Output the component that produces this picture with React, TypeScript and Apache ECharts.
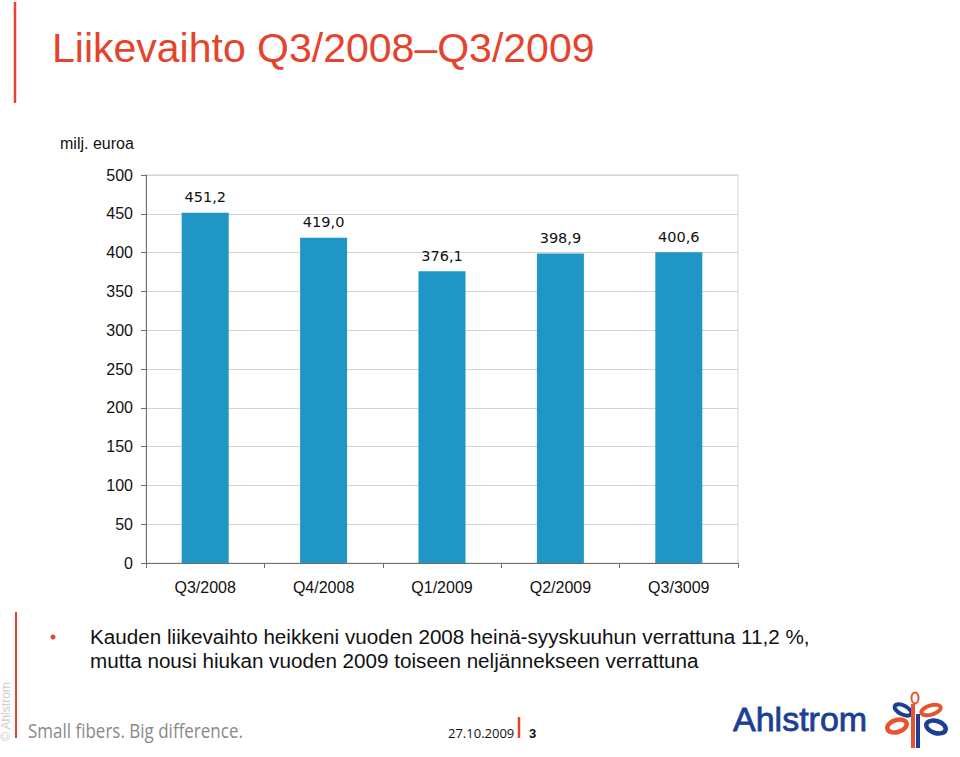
import React, { useEffect, useRef } from "react";
import * as echarts from "echarts";

const categories = ["Q3/2008", "Q4/2008", "Q1/2009", "Q2/2009", "Q3/3009"];
const revenue = [451.2, 419.0, 376.1, 398.9, 400.6];
const yTicks = [0, 50, 100, 150, 200, 250, 300, 350, 400, 450, 500];

const titleText = "Liikevaihto Q3/2008\u2013Q3/2009";
const unitText = "milj. euroa";
const bulletLines = [
  "Kauden liikevaihto heikkeni vuoden 2008 heinä-syyskuuhun verrattuna 11,2 %,",
  "mutta nousi hiukan vuoden 2009 toiseen neljännekseen verrattuna",
];
const sloganText = "Small fibers. Big difference.";
const dateText = "27.10.2009";
const pageText = "3";
const logoText = "Ahlstrom";
const copyrightText = "\u00a9 Ahlstrom";

const RED = "#e5432d";
const BLUE = "#1f96c6";
const LOGO_BLUE = "#1c3f94";
const LOGO_ORANGE = "#e8532f";
const FONT = "'Liberation Sans', Arial, Helvetica, sans-serif";
const HUMANIST = "'Open Sans', 'Noto Sans', sans-serif";

export default function App() {
  const ref = useRef<HTMLDivElement>(null);
  useEffect(() => {
    if (!ref.current) return;
    const chart = echarts.init(ref.current, undefined, { renderer: "svg" });
    const fmt = (v: number) => v.toFixed(1).replace(".", ",");
    chart.setOption({
      animation: false,
      backgroundColor: "#ffffff",
      grid: {
        left: 146,
        right: 222,
        top: 175,
        bottom: 194,
        show: true,
        borderColor: "#d4d4d4",
        borderWidth: 1,
      },
      xAxis: {
        type: "category",
        data: categories,
        axisLine: { show: true, lineStyle: { color: "#6e6e6e", width: 1 } },
        axisTick: { show: true, length: 5, alignWithLabel: false, lineStyle: { color: "#6e6e6e" } },
        axisLabel: { color: "#111", fontSize: 16, fontFamily: FONT, margin: 16 },
      },
      yAxis: {
        type: "value",
        min: yTicks[0],
        max: yTicks[yTicks.length - 1],
        interval: 50,
        axisLine: { show: true, lineStyle: { color: "#6e6e6e", width: 1 } },
        axisTick: { show: true, length: 5, lineStyle: { color: "#6e6e6e" } },
        axisLabel: { color: "#111", fontSize: 16, fontFamily: FONT, margin: 13 },
        splitLine: { show: true, lineStyle: { color: "#d4d4d4", width: 1 } },
      },
      series: [
        {
          type: "bar",
          data: revenue,
          barWidth: 47,
          itemStyle: { color: BLUE },
          label: {
            show: true,
            position: "top",
            distance: 8,
            color: "#111",
            fontSize: 14.5,
            fontFamily: "'DejaVu Sans', sans-serif",
            formatter: (p: any) => fmt(p.value),
          },
        },
      ],
      graphic: [
        { type: "line", shape: { x1: 15, y1: 2, x2: 15, y2: 103 }, style: { stroke: RED, lineWidth: 2.5 } },
        {
          type: "text",
          x: 52,
          y: 48,
          style: { text: titleText, fill: RED, font: `41px ${FONT}`, textVerticalAlign: "middle" },
        },
        {
          type: "text",
          x: 60,
          y: 143,
          style: { text: unitText, fill: "#111", font: `16px ${FONT}`, textVerticalAlign: "middle" },
        },
        { type: "line", shape: { x1: 16, y1: 612, x2: 16, y2: 738 }, style: { stroke: RED, lineWidth: 2 } },
        {
          type: "text",
          x: 6,
          y: 741,
          rotation: Math.PI / 2,
          style: { text: copyrightText, fill: "#cdcdcd", font: `12px ${FONT}`, textVerticalAlign: "middle" },
        },
        { type: "circle", shape: { cx: 53, cy: 637, r: 2.5 }, style: { fill: RED } },
        {
          type: "text",
          x: 90,
          y: 637,
          scaleX: 1.06,
          style: { text: bulletLines[0], fill: "#111", font: `19.5px ${FONT}`, textVerticalAlign: "middle" },
        },
        {
          type: "text",
          x: 90,
          y: 661,
          scaleX: 1.06,
          style: { text: bulletLines[1], fill: "#111", font: `19.5px ${FONT}`, textVerticalAlign: "middle" },
        },
        {
          type: "text",
          x: 28,
          y: 730,
          scaleX: 0.85,
          style: { text: sloganText, fill: "#8a8a8a", font: `20px ${HUMANIST}`, textVerticalAlign: "middle" },
        },
        {
          type: "text",
          x: 448,
          y: 733,
          style: { text: dateText, fill: "#111", font: `13px ${HUMANIST}`, textVerticalAlign: "middle" },
        },
        { type: "line", shape: { x1: 519, y1: 717, x2: 519, y2: 738 }, style: { stroke: RED, lineWidth: 2.5 } },
        {
          type: "text",
          x: 529,
          y: 733,
          style: { text: pageText, fill: "#111", font: `bold 13px ${FONT}`, textVerticalAlign: "middle" },
        },
        {
          type: "text",
          x: 733,
          y: 719,
          style: {
            text: logoText,
            fill: LOGO_BLUE,
            stroke: LOGO_BLUE,
            lineWidth: 0.8,
            font: `34px ${FONT}`,
            textVerticalAlign: "middle",
          },
        },
        // logo symbol
        { type: "ellipse", shape: { cx: 915, cy: 698, rx: 3.5, ry: 5.5 }, style: { fill: "none", stroke: LOGO_ORANGE, lineWidth: 2 } },
        {
          type: "ellipse",
          x: 903, y: 710, rotation: -0.45,
          shape: { cx: 0, cy: 0, rx: 9, ry: 4.5 },
          style: { fill: "none", stroke: LOGO_BLUE, lineWidth: 4 },
        },
        {
          type: "ellipse",
          x: 931, y: 710, rotation: 0.3,
          shape: { cx: 0, cy: 0, rx: 10, ry: 4.5 },
          style: { fill: "none", stroke: LOGO_ORANGE, lineWidth: 4 },
        },
        {
          type: "ellipse",
          x: 897, y: 726, rotation: 0.3,
          shape: { cx: 0, cy: 0, rx: 10, ry: 6 },
          style: { fill: "none", stroke: LOGO_ORANGE, lineWidth: 4.5 },
        },
        {
          type: "ellipse",
          x: 936, y: 727, rotation: -0.3,
          shape: { cx: 0, cy: 0, rx: 10, ry: 6 },
          style: { fill: "none", stroke: LOGO_BLUE, lineWidth: 4.5 },
        },
        { type: "line", shape: { x1: 913, y1: 704, x2: 913, y2: 748 }, style: { stroke: LOGO_ORANGE, lineWidth: 4 } },
        { type: "line", shape: { x1: 918, y1: 714, x2: 918, y2: 748 }, style: { stroke: LOGO_BLUE, lineWidth: 4 } },
      ],
    });
    return () => chart.dispose();
  }, []);
  return (
    <div
      ref={ref}
      style={{ position: "absolute", left: 0, top: 0, width: 960, height: 757, background: "#fff" }}
    />
  );
}
